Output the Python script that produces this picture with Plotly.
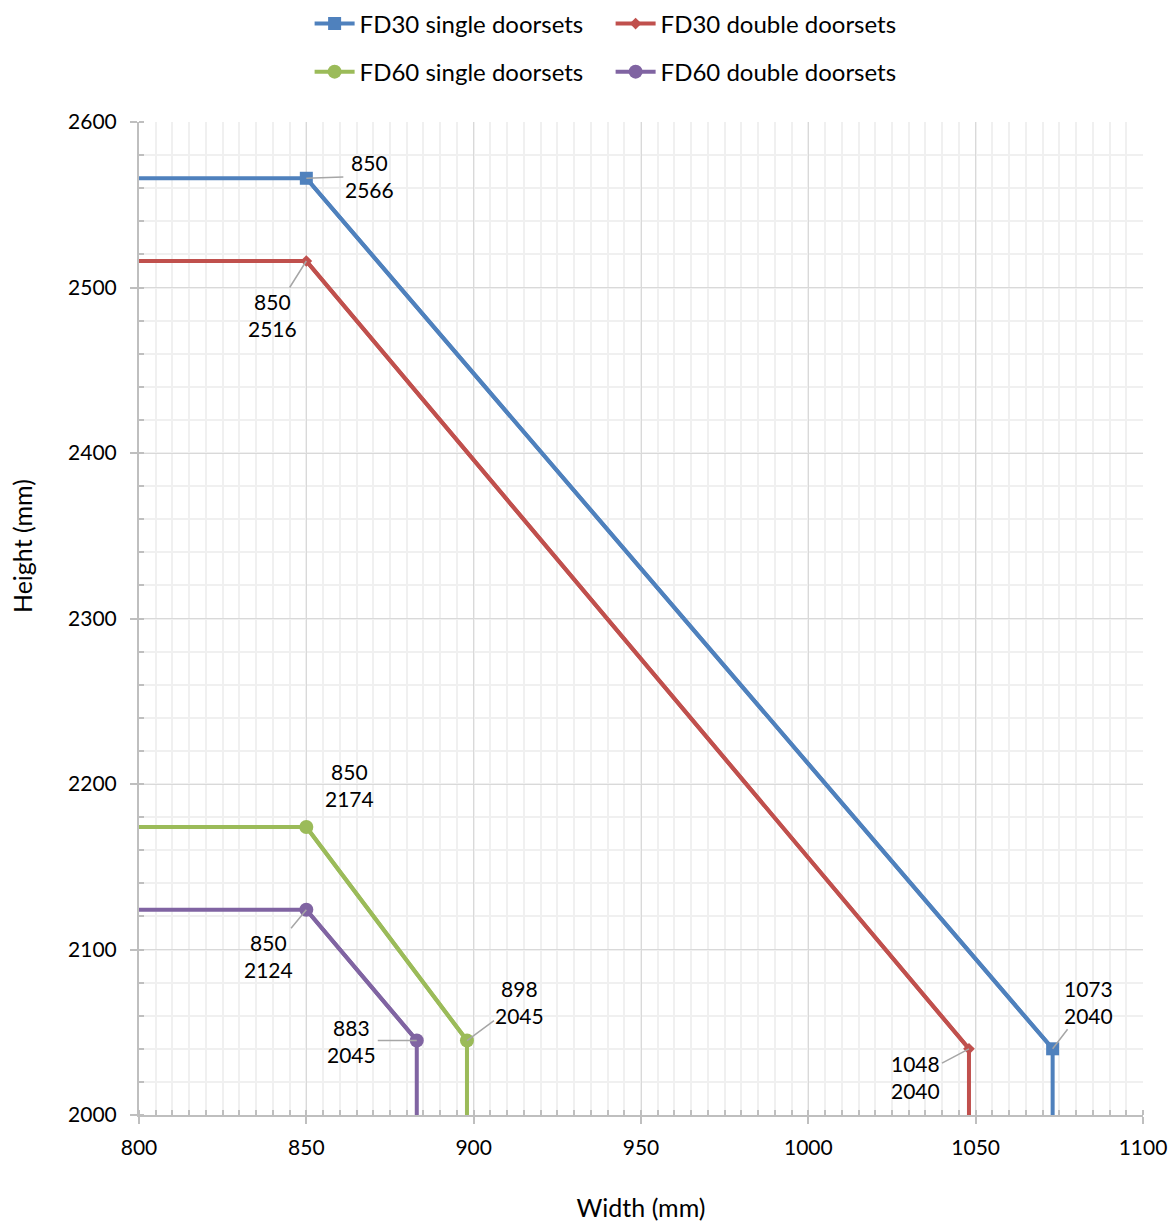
import plotly.graph_objects as go

# Maximum leaf-size envelopes (width vs height, mm)
series_names = ["FD30 single doorsets", "FD30 double doorsets",
                "FD60 single doorsets", "FD60 double doorsets"]
fd30_single_w = [800, 850, 1073, 1073]
fd30_single_h = [2566, 2566, 2040, 2000]
fd30_double_w = [800, 850, 1048, 1048]
fd30_double_h = [2516, 2516, 2040, 2000]
fd60_single_w = [800, 850, 898, 898]
fd60_single_h = [2174, 2174, 2045, 2000]
fd60_double_w = [800, 850, 883, 883]
fd60_double_h = [2124, 2124, 2045, 2000]

colors = ["#4F81BD", "#C0504D", "#9BBB59", "#8064A2"]
symbols = ["square", "diamond", "circle", "circle"]
msizes = [13, 9, 14, 14]
legend_ids = ["legend", "legend", "legend2", "legend2"]

widths = [fd30_single_w, fd30_double_w, fd60_single_w, fd60_double_w]
heights = [fd30_single_h, fd30_double_h, fd60_single_h, fd60_double_h]

# label offsets (px) of the corner-point labels relative to their points
label_offsets = [
    [(63, -2, True), (36, -47, True)],
    [(-34, 54, True), (-53, 28, True)],
    [(43, -42, False), (53, -39, True)],
    [(-38, 46, True), (-65, 0, True)],
]

FONT = "Lato, 'Liberation Sans', Arial, sans-serif"

fig = go.Figure()
annotations = []
for i, name in enumerate(series_names):
    w, h = widths[i], heights[i]
    # full envelope outline
    fig.add_trace(go.Scatter(
        x=w, y=h, mode="lines", showlegend=False, hoverinfo="skip",
        line=dict(color=colors[i], width=4),
    ))
    # corner points with markers (also carries the legend entry)
    fig.add_trace(go.Scatter(
        x=w[1:3], y=h[1:3], mode="lines+markers", name=name,
        legend=legend_ids[i],
        line=dict(color=colors[i], width=4),
        marker=dict(symbol=symbols[i], size=msizes[i], color=colors[i]),
    ))
    for k, idx in enumerate((1, 2)):
        ax, ay, show = label_offsets[i][k]
        annotations.append(dict(
            x=w[idx], y=h[idx], xref="x", yref="y",
            text=f"{w[idx]}<br>{h[idx]}", align="center",
            showarrow=True, arrowhead=0, arrowwidth=1.5,
            arrowcolor="#A6A6A6" if show else "rgba(0,0,0,0)",
            ax=ax, ay=ay, standoff=0,
            font=dict(size=21, color="#000000", family=FONT),
        ))

# vertical axis title
annotations.append(dict(
    text="Height (mm)", textangle=-90, showarrow=False,
    xref="paper", yref="paper", x=-0.1165, y=0.573,
    xanchor="center", yanchor="middle",
    font=dict(size=25, color="#000000", family=FONT),
))

legend_common = dict(orientation="h", xref="container", x=0.2644,
                     xanchor="left", yanchor="middle",
                     font=dict(size=24), entrywidth=246, itemwidth=40)

fig.update_layout(
    width=1171, height=1222,
    margin=dict(l=139, r=28, t=122, b=107, autoexpand=False),
    paper_bgcolor="white", plot_bgcolor="white",
    font=dict(family=FONT, size=21, color="#000000"),
    annotations=annotations,
    legend=dict(y=1.0987, **legend_common),
    legend2=dict(y=1.0503, **legend_common),
)

fig.update_xaxes(
    range=[800, 1100], tick0=800, dtick=50,
    showgrid=True, gridcolor="#D9D9D9", gridwidth=1,
    showline=True, linecolor="#BFBFBF", linewidth=2,
    ticks="outside", ticklen=7, tickcolor="#BFBFBF", tickwidth=2,
    zeroline=False, automargin=False,
    minor=dict(dtick=5, showgrid=True, gridcolor="#F0F0F0", gridwidth=1.5,
               ticks="inside", ticklen=5, tickcolor="#BFBFBF", tickwidth=1.5),
    tickfont=dict(size=21),
    ticklabelstandoff=6,
    title=dict(text="Width (mm)", font=dict(size=25), standoff=50),
)
fig.update_yaxes(
    range=[2000, 2600], tick0=2000, dtick=100,
    showgrid=True, gridcolor="#D9D9D9", gridwidth=1,
    showline=True, linecolor="#BFBFBF", linewidth=2,
    ticks="outside", ticklen=7, tickcolor="#BFBFBF", tickwidth=2,
    zeroline=False, automargin=False,
    minor=dict(dtick=20, showgrid=True, gridcolor="#F0F0F0", gridwidth=1.5,
               ticks="inside", ticklen=5, tickcolor="#BFBFBF", tickwidth=1.5),
    tickfont=dict(size=21),
    ticklabelstandoff=9,
)

fig.write_html("out.html")
